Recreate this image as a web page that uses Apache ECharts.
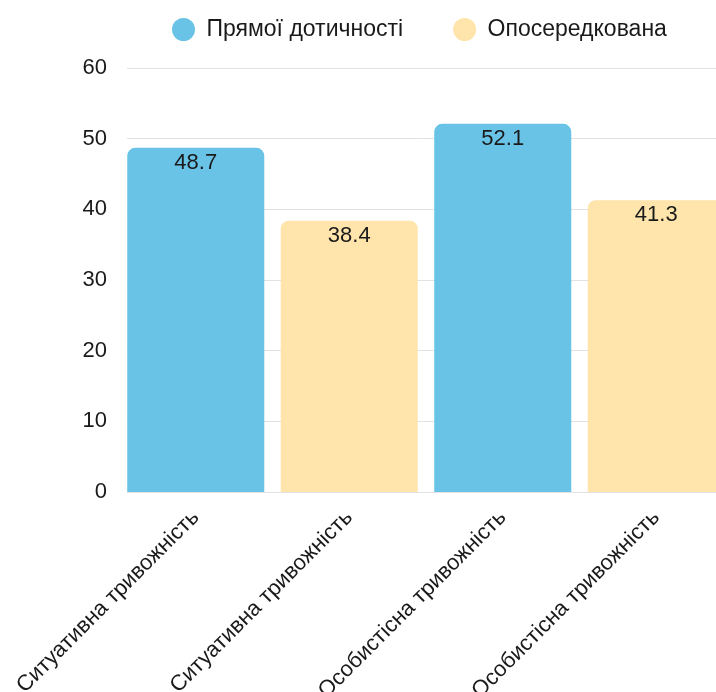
<!DOCTYPE html>
<html><head><meta charset="utf-8">
<script src="https://cdn.jsdelivr.net/npm/echarts@6/dist/echarts.min.js"></script>
<style>html,body{margin:0;padding:0;background:#fff;overflow:hidden}#c{width:733px;height:692px}</style>
</head><body><div id="c"></div>
<script>
const categories = ['Ситуативна тривожність','Ситуативна тривожність','Особистісна тривожність','Особистісна тривожність'];
const seriesNames = ['Прямої дотичності','Опосередкована'];
const directValues = [48.7, null, 52.1, null];
const indirectValues = [null, 38.4, null, 41.3];
const yMin = 0, yMax = 60, yStep = 10;

const FONT = '"Liberation Sans", Arial, sans-serif';
const BLUE = '#68C3E6', YELLOW = '#FFE4AB';
const chart = echarts.init(document.getElementById('c'), null, {renderer:'canvas'});
const labelCfg = {show:true, position:'insideTop', distance:4, color:'#1a1a1a', fontSize:22, fontFamily:FONT,
  formatter: p => p.value == null ? '' : p.value.toFixed(1)};
chart.setOption({
  animation:false,
  legend:{top:13, left:167, itemWidth:24, itemHeight:23, itemGap:50, icon:'circle',
    textStyle:{fontSize:23, fontFamily:FONT, color:'#1a1a1a', padding:[0,0,0,6]},
    data:seriesNames},
  grid:[{left:127, right:17, top:68, bottom:200, containLabel:false, outerBoundsMode:'none'},
        {left:119, right:0, top:68, bottom:200, containLabel:false, outerBoundsMode:'none'}],
  xAxis:[{gridIndex:0, type:'category', data:categories, show:false},
         {gridIndex:1, type:'category', data:categories,
          axisLine:{show:false}, axisTick:{show:false},
          axisLabel:{rotate:45, interval:0, margin:22, fontSize:22, fontFamily:FONT, color:'#1a1a1a'}}],
  yAxis:[{gridIndex:0, type:'value', min:yMin, max:yMax, interval:yStep,
          axisLine:{show:false}, axisTick:{show:false},
          axisLabel:{margin:20, fontSize:22, fontFamily:FONT, color:'#1a1a1a'},
          splitLine:{lineStyle:{color:'#e2e2e2', width:1}}},
         {gridIndex:1, type:'value', min:yMin, max:yMax, interval:yStep, show:false, splitLine:{show:false}}],
  series:[
    {name:seriesNames[0], type:'bar', xAxisIndex:1, yAxisIndex:1, data:directValues, barWidth:137, barGap:'-100%',
     itemStyle:{color:BLUE, borderRadius:[8,8,0,0]}, label:labelCfg},
    {name:seriesNames[1], type:'bar', xAxisIndex:1, yAxisIndex:1, data:indirectValues, barWidth:137, barGap:'-100%',
     itemStyle:{color:YELLOW, borderRadius:[8,8,0,0]}, label:labelCfg}
  ]
});
</script></body></html>
